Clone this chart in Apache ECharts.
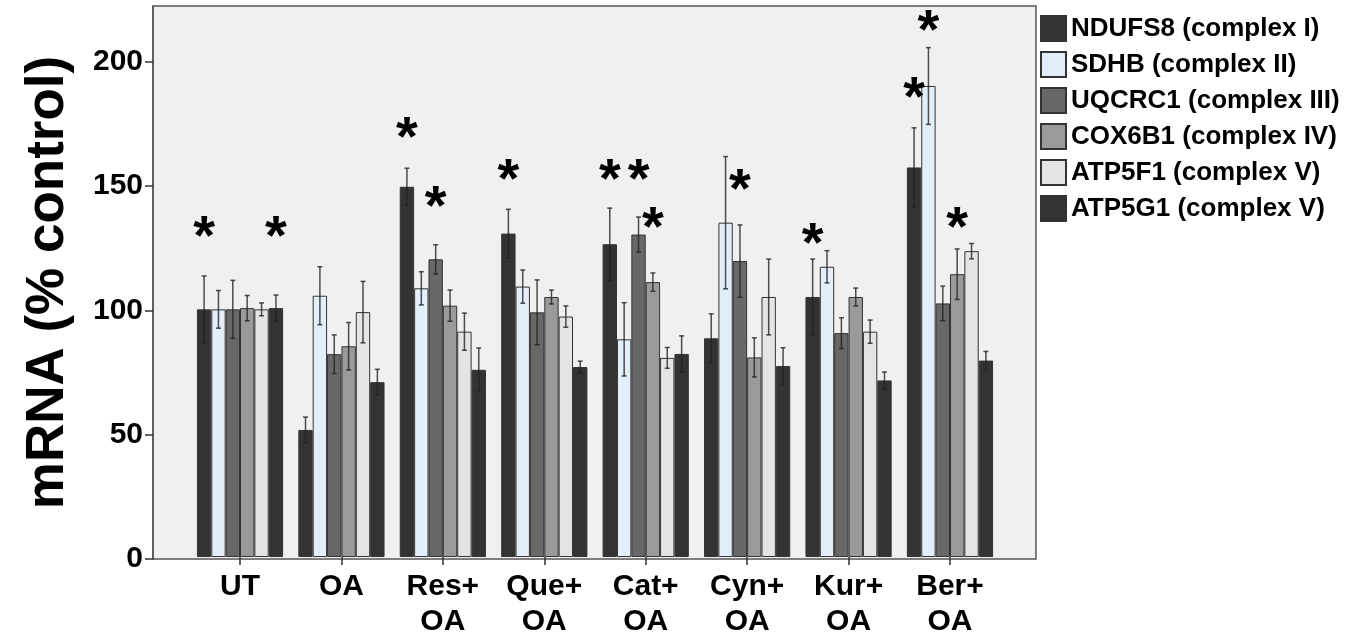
<!DOCTYPE html>
<html><head><meta charset="utf-8">
<script src="https://cdn.jsdelivr.net/npm/echarts@6/dist/echarts.min.js"></script>
<style>html,body{margin:0;padding:0;background:#fff}#c{width:1364px;height:639px}</style>
</head><body><div id="c"></div>
<script>
// ---- data ----
const categories = ['UT', 'OA', 'Res+\nOA', 'Que+\nOA', 'Cat+\nOA', 'Cyn+\nOA', 'Kur+\nOA', 'Ber+\nOA'];
const seriesNames = ['NDUFS8 (complex I)', 'SDHB (complex II)', 'UQCRC1 (complex III)', 'COX6B1 (complex IV)', 'ATP5F1 (complex V)', 'ATP5G1 (complex V)'];

const ndufs8 = [100, 51.3, 149.5, 130.6, 126.3, 88.3, 105.0, 157.3];
const sdhb   = [100, 105.5, 108.5, 109.2, 87.9, 135.0, 117.2, 190.2];
const uqcrc1 = [100, 81.9, 120.2, 98.8, 130.2, 119.5, 90.4, 102.4];
const cox6b1 = [100.5, 85.1, 101.5, 105.0, 111.0, 80.6, 105.0, 114.2];
const atp5f1 = [100, 98.9, 91.0, 97.1, 80.4, 105.0, 91.0, 123.5];
const atp5g1 = [100.5, 70.6, 75.6, 76.7, 82.0, 77.1, 71.3, 79.3];

const ndufs8Err = [13.5, 5.2, 7.5, 9.8, 14.6, 9.9, 15.3, 16.0];
const sdhbErr   = [7.6, 11.7, 6.7, 6.7, 14.8, 26.7, 6.5, 15.5];
const uqcrc1Err = [11.7, 7.8, 5.9, 13.1, 7.1, 14.6, 6.2, 7.0];
const cox6b1Err = [5.1, 9.6, 6.3, 2.8, 3.7, 7.9, 3.6, 10.2];
const atp5f1Err = [2.6, 12.4, 7.5, 4.3, 4.2, 15.3, 4.7, 3.1];
const atp5g1Err = [5.3, 5.2, 8.8, 2.4, 7.3, 7.4, 3.4, 3.7];

// significance marks: [category index, series index, height of the mark]
const asterisks = [
  [0, 0, 134], [0, 5, 134],
  [2, 0, 174], [2, 2, 146],
  [3, 0, 157],
  [4, 0, 157], [4, 2, 157], [4, 3, 137.5],
  [5, 2, 153],
  [6, 0, 131],
  [7, 0, 190], [7, 1, 217], [7, 3, 137.5]
];

const yTicks = [0, 50, 100, 150, 200];
const yMax = 222.5;

// ---- styling ----
const colors = ['#333333', '#e3eefb', '#686868', '#9a9a9a', '#e4e4e4', '#333333'];
const FONT = '"Liberation Sans", Arial, sans-serif';
const CAT_GAP = 0.15;

const values = [ndufs8, sdhb, uqcrc1, cox6b1, atp5f1, atp5g1];
const errors = [ndufs8Err, sdhbErr, uqcrc1Err, cox6b1Err, atp5f1Err, atp5g1Err];
const N = values.length;

function slotX(api, cat, s) {
  const band = api.size([1, 0])[0];
  const group = band * (1 - CAT_GAP);
  const w = group / N;
  return api.coord([cat, 0])[0] - group / 2 + w * (s + 0.5);
}

const errData = [];
values.forEach((arr, s) => arr.forEach((v, i) => errData.push([i, s, v, errors[s][i]])));

const barSeries = values.map((arr, s) => ({
  name: seriesNames[s],
  type: 'bar',
  xAxisIndex: 1, yAxisIndex: 1,
  data: arr,
  barGap: '0%',
  barCategoryGap: (CAT_GAP * 100) + '%',
  itemStyle: { color: colors[s], borderColor: '#333', borderWidth: 1 },
  emphasis: { disabled: true }
}));

const errStyle = { stroke: '#222', lineWidth: 1.5, opacity: 0.8 };

const option = {
  animation: false,
  backgroundColor: '#ffffff',
  legend: {
    data: seriesNames,
    orient: 'vertical',
    left: 1035, top: 10,
    itemWidth: 25, itemHeight: 25, itemGap: 9,
    icon: 'rect',
    textStyle: { fontSize: 26, fontWeight: 'bold', color: '#000', fontFamily: FONT },
    selectedMode: false
  },
  grid: [
    { left: 153, top: 6, width: 883, height: 553, show: true, backgroundColor: '#f0f0f0', borderColor: '#555', borderWidth: 1.5 },
    { left: 189.3, top: 6, width: 811.4, height: 553 }
  ],
  xAxis: [
    { type: 'value', gridIndex: 0, show: false },
    {
      type: 'category', gridIndex: 1, data: categories,
      axisLine: { show: false },
      axisTick: { show: true, alignWithLabel: true, length: 8, lineStyle: { color: '#333', width: 1.5 } },
      axisLabel: { interval: 0, fontSize: 30, fontWeight: 'bold', color: '#000', fontFamily: FONT, lineHeight: 35, margin: 12 }
    }
  ],
  yAxis: [
    {
      type: 'value', gridIndex: 0, min: 0, max: yMax, interval: 50,
      axisLine: { show: true, lineStyle: { color: '#555', width: 1.5 } },
      axisTick: { show: true, length: 8, lineStyle: { color: '#333', width: 1.5 }, customValues: yTicks },
      axisLabel: { fontSize: 30, fontWeight: 'bold', color: '#000', fontFamily: FONT, margin: 10, customValues: yTicks },
      splitLine: { show: false },
      name: 'mRNA (% control)', nameLocation: 'middle', nameGap: 78,
      nameTextStyle: { fontSize: 53, fontWeight: 'bold', color: '#000', fontFamily: FONT }
    },
    { type: 'value', gridIndex: 1, min: 0, max: yMax, show: false }
  ],
  series: barSeries.concat([
    {
      type: 'custom', name: 'errors',
      xAxisIndex: 1, yAxisIndex: 1,
      data: errData,
      encode: { x: 0, y: 2 },
      z: 5, silent: true,
      renderItem: function (params, api) {
        const cat = api.value(0), s = api.value(1), v = api.value(2), e = api.value(3);
        const x = slotX(api, cat, s);
        const yT = api.coord([cat, v + e])[1];
        const yB = api.coord([cat, v - e])[1];
        const cap = 2.5;
        return { type: 'group', children: [
          { type: 'line', shape: { x1: x, y1: yT, x2: x, y2: yB }, style: errStyle },
          { type: 'line', shape: { x1: x - cap, y1: yT, x2: x + cap, y2: yT }, style: errStyle },
          { type: 'line', shape: { x1: x - cap, y1: yB, x2: x + cap, y2: yB }, style: errStyle }
        ] };
      }
    },
    {
      type: 'custom', name: 'stars',
      xAxisIndex: 1, yAxisIndex: 1,
      data: asterisks,
      encode: { x: 0, y: 2 },
      z: 6, silent: true,
      renderItem: function (params, api) {
        const cat = api.value(0), s = api.value(1), v = api.value(2);
        const x = slotX(api, cat, s);
        const y = api.coord([cat, v])[1];
        const fs = 56;
        return { type: 'text', x: x, y: y + fs * 0.24,
          style: { text: '*', fill: '#000', fontSize: fs, fontWeight: 'bold', fontFamily: FONT, align: 'center', verticalAlign: 'middle' } };
      }
    }
  ])
};

const chart = echarts.init(document.getElementById('c'), null, { renderer: 'canvas' });
chart.setOption(option);
</script>
</body></html>
